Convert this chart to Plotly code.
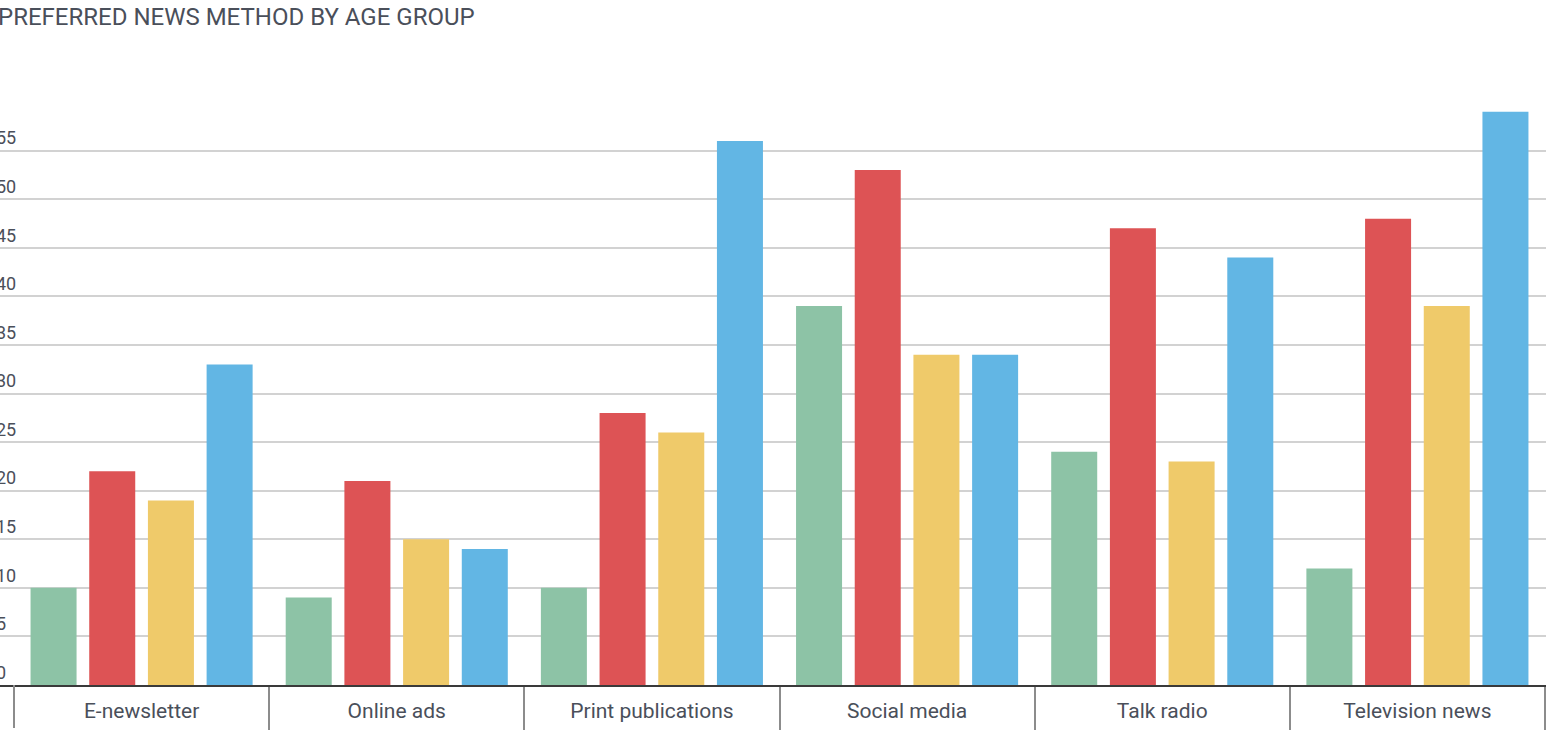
import plotly.graph_objects as go

categories = ["E-newsletter", "Online ads", "Print publications", "Social media", "Talk radio", "Television news"]
series_names = ["Group 1", "Group 2", "Group 3", "Group 4"]
series_values = [
    [10, 9, 10, 39, 24, 12],
    [22, 21, 28, 53, 47, 48],
    [19, 15, 26, 34, 23, 39],
    [33, 14, 56, 34, 44, 59],
]
colors = ["#8DC3A6", "#DD5355", "#EFCA6A", "#62B6E4"]
tick_vals = [0, 5, 10, 15, 20, 25, 30, 35, 40, 45, 50, 55]
title_text = "PREFERRED NEWS METHOD BY AGE GROUP"

fig = go.Figure()
for name, vals, col in zip(series_names, series_values, colors):
    fig.add_trace(go.Bar(x=categories, y=vals, name=name, marker=dict(color=col, line=dict(width=0))))

W, H = 1557, 754
ml, mr, mt, mb = 0, 11, 104, 69
plot_w = W - ml - mr
plot_h = H - mt - mb
unit = (1545 - 14) / 6.0
x0 = -0.5 - (14 - ml) / unit
x1 = x0 + plot_w / unit

fig.update_layout(
    width=W, height=H,
    margin=dict(l=ml, r=mr, t=mt, b=mb, pad=0, autoexpand=False),
    paper_bgcolor="white", plot_bgcolor="white",
    barmode="group", bargap=0.08, bargroupgap=0.216,
    showlegend=False,
    font=dict(family="Roboto", color="#4A4F5A"),
    xaxis=dict(
        type="category", range=[x0, x1], automargin=False,
        showline=True, linecolor="#3A3A3A", linewidth=2,
        ticks="outside", tickson="boundaries", ticklen=43, tickwidth=2, tickcolor="#8C8C8C",
        tickfont=dict(size=21, color="#4A4F5A"),
        ticklabelstandoff=6,
        showgrid=False, zeroline=False,
    ),
    yaxis=dict(
        range=[0, 59.8], tickvals=tick_vals, automargin=False,
        showgrid=True, gridcolor="#D2D2D2", gridwidth=2,
        zeroline=False, showline=False, ticks="",
        ticklabelposition="inside top", ticklabelstandoff=-7,
        tickfont=dict(size=18, color="#4A4F5A"),
    ),
)
# left boundary separator of the first category
fig.add_shape(type="line", xref="x", yref="paper", x0=-0.5, x1=-0.5, y0=0, y1=-43 / plot_h,
              line=dict(color="#8C8C8C", width=2))
fig.add_annotation(
    text=title_text, xref="paper", yref="paper", x=0, y=1, xanchor="left", yanchor="bottom",
    xshift=-4, yshift=71, showarrow=False, font=dict(size=24, color="#4A4F5A", family="Roboto"),
)
fig.write_html("out.html")
